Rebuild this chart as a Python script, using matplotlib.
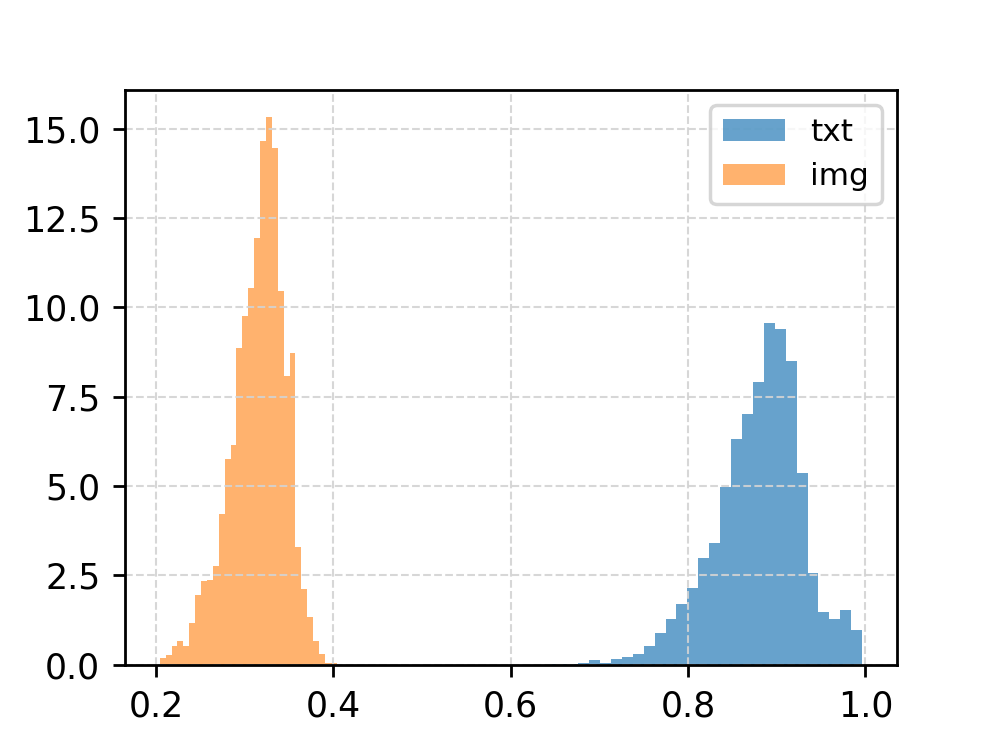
import numpy as np
import matplotlib
matplotlib.use("Agg")
import matplotlib.pyplot as plt

# bin layout (30 bins per series)
img_lo, img_hi = 0.2041, 0.4037
txt_lo, txt_hi = 0.6268, 0.9964

# density heights per bin
img_heights = [0.20, 0.28, 0.53, 0.67, 0.53, 1.16, 1.96, 2.34, 2.37, 2.77,
               4.21, 5.76, 6.14, 8.87, 9.75, 10.55, 11.95, 14.65, 15.33, 14.47,
               10.47, 8.09, 8.72, 3.29, 2.13, 1.34, 0.67, 0.29, 0.05, 0.05]
txt_heights = [0.00, 0.02, 0.02, 0.03, 0.05, 0.13, 0.06, 0.16, 0.23, 0.30,
               0.52, 0.89, 1.29, 1.70, 2.16, 3.00, 3.41, 4.99, 6.32, 7.02,
               7.91, 9.57, 9.40, 8.50, 5.38, 2.56, 1.48, 1.28, 1.53, 0.97]

img_edges = np.linspace(img_lo, img_hi, len(img_heights) + 1)
txt_edges = np.linspace(txt_lo, txt_hi, len(txt_heights) + 1)

fig, ax = plt.subplots(figsize=(997 / 250, 747 / 250), dpi=250)

ax.hist(txt_edges[:-1], bins=txt_edges, weights=txt_heights,
        color="tab:blue", alpha=0.68, label="txt")
ax.hist(img_edges[:-1], bins=img_edges, weights=img_heights,
        color="tab:orange", alpha=0.6, label="img")

ax.grid(True, linestyle="--", color="lightgray", alpha=0.9, linewidth=0.6)
ax.legend(loc="upper right", fontsize=9)

fig.savefig("out.png", dpi=250)
